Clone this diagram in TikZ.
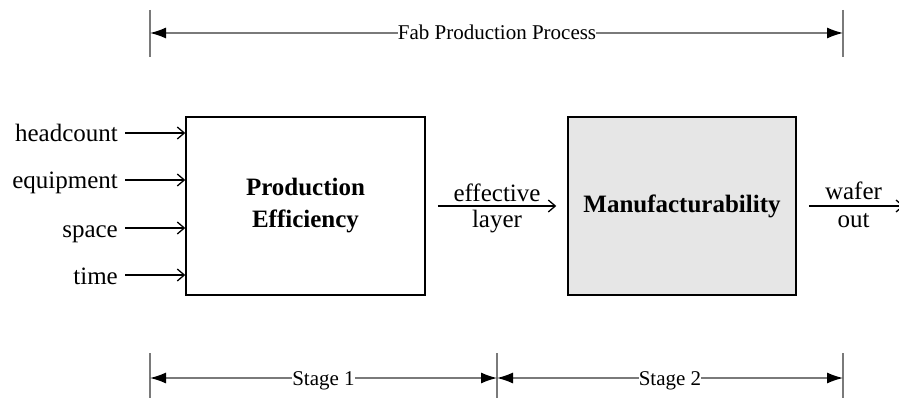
\documentclass[tikz,border=0pt]{standalone}
\usepackage{fontspec}
\setmainfont{Liberation Serif}
\usetikzlibrary{arrows.meta}
\definecolor{dimgray}{HTML}{7A7A7A}
\definecolor{stagefill}{HTML}{E6E6E6}
\begin{document}
\begin{tikzpicture}[x=1pt,y=-1pt,
  lbl/.style={font=\fontsize{25}{32}\selectfont, inner sep=0pt},
  inlbl/.style={lbl, anchor=east, text height=18pt, text depth=0pt, inner xsep=7pt},
  dimlbl/.style={font=\fontsize{21}{24}\selectfont, inner sep=0pt, text height=14pt, text depth=0pt},
  stagebox/.style={draw=black, line width=1.5pt, inner sep=0pt,
    font=\fontsize{25}{32}\selectfont\bfseries, align=center},
  flow/.style={draw=black, line width=1.3pt, -{Straight Barb[length=7pt,width=12pt,line width=1.3pt]}},
  dimline/.style={draw=dimgray, line width=1.3pt, -{Latex[length=16pt,width=11pt,color=black]}},
  tick/.style={draw=dimgray, line width=1.3pt},
]
\useasboundingbox (0,0) rectangle (899,398);
\clip (0,0) rectangle (899,398);

% the two stages
\node[stagebox, minimum width=239pt, minimum height=178pt] (pe) at (305.5,206)
  {Production\\Efficiency};
\node[stagebox, fill=stagefill, minimum width=228pt, minimum height=178pt] (mf) at (682,206)
  {Manufacturability};

% inputs of stage 1
\node[inlbl] (hc) at (125,133) {headcount};
\node[inlbl] (eq) at (125,180) {equipment};
\node[inlbl] (sp) at (125,228) {space};
\node[inlbl] (tm) at (125,275) {time};
\foreach \n in {hc,eq,sp,tm}
  \draw[flow] (\n.east) -- (\n.east -| pe.west);

% flow between the stages and out of stage 2
\coordinate (e1) at ([xshift=12pt]pe.east);
\coordinate (e2) at ([xshift=-11pt]mf.west);
\draw[flow] (e1) -- (e2)
  node[lbl, midway, anchor=base, yshift=5pt] (eff) {effective}
  node[lbl, midway, anchor=base, yshift=-21pt] (lay) {layer};
\coordinate (w1) at ([xshift=12pt]mf.east);
\coordinate (w2) at (904,206);
\draw[flow] (w1) -- (w2)
  node[lbl, pos=0.47, anchor=base, yshift=6pt] (waf) {wafer}
  node[lbl, pos=0.47, anchor=base, yshift=-21pt] (out) {out};

% extension ticks
\coordinate (tA) at (150,33);
\coordinate (tB) at (843,33);
\coordinate (bA) at (150,378);
\coordinate (bM) at (497,378);
\coordinate (bB) at (843,378);
\draw[tick] (150,10) -- (150,57);
\draw[tick] (843,10) -- (843,57);
\draw[tick] (150,353) -- (150,400);
\draw[tick] (497,353) -- (497,400);
\draw[tick] (843,353) -- (843,400);

% dimension lines
\node[dimlbl] (fab) at (497,33) {Fab Production Process};
\draw[dimline] (fab.west) -- (tA);
\draw[dimline] (fab.east) -- (tB);

\node[dimlbl] (s1) at (323.5,378) {Stage 1};
\draw[dimline] (s1.west) -- (bA);
\draw[dimline] (s1.east) -- (bM);

\node[dimlbl] (s2) at (670,378) {Stage 2};
\draw[dimline] (s2.west) -- (bM);
\draw[dimline] (s2.east) -- (bB);
\end{tikzpicture}
\end{document}
